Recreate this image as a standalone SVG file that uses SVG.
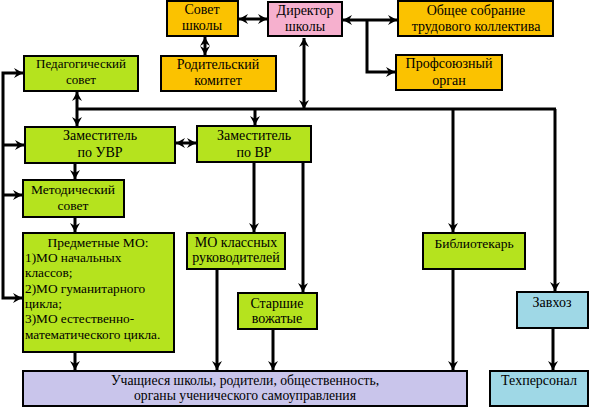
<svg xmlns="http://www.w3.org/2000/svg" width="591" height="409" viewBox="0 0 591 409" font-family="'Liberation Serif', 'DejaVu Serif', serif">
<defs>
<marker id="ah" markerWidth="10" markerHeight="10" refX="9" refY="5" orient="auto-start-reverse" markerUnits="userSpaceOnUse">
<path d="M0,0 L9,5 L0,10 L3,5 z" fill="#000"/>
</marker>
</defs>
<style>
.b{stroke:#000;stroke-width:2}
.g{fill:#B5E31E}
.o{fill:#FBC200}
.p{fill:#F6B0CE}
.l{fill:#C9C5EB}
.c{fill:#9FD8E6}
text{font-family:'Liberation Serif',serif;font-size:14px;fill:#000;text-anchor:middle}
.lt{text-anchor:start;font-size:13.3px}
.k{fill:none;stroke:#000;stroke-width:3}
.a{marker-end:url(#ah)}
.d{marker-start:url(#ah);marker-end:url(#ah)}
</style>
<rect width="591" height="409" fill="#fff"/>
<g id="connectors">
<path class="k d" d="M239,19 H267"/>
<path class="k d" d="M205,37 V55"/>
<path class="k d" d="M343,20 H397"/>
<path class="k a" d="M367,20 V72 H395"/>
<path class="k d" d="M304,38 V109"/>
<path class="k" d="M77,109 H556"/>
<path class="k d" d="M77,92 V126"/>
<path class="k a" d="M255,109 V125"/>
<path class="k a" d="M453,109 V232"/>
<path class="k a" d="M555,109 V291"/>
<path class="k d" d="M176,143 H196"/>
<path class="k a" d="M254,163 V232"/>
<path class="k a" d="M303,163 V292"/>
<path class="k a" d="M75,164 V179"/>
<path class="k a" d="M75,218 V232"/>
<path class="k a" d="M75,353 V370"/>
<path class="k a" d="M217,270 V370"/>
<path class="k a" d="M273,330 V370"/>
<path class="k a" d="M453,270 V370"/>
<path class="k a" d="M553,329 V370"/>
<path class="k d" d="M23,73 H3 V298 H22"/>
<path class="k a" d="M3,145 H24"/>
<path class="k a" d="M3,195 H22"/>
</g>
<g id="sovet-shkoly"><rect class="b o" x="167" y="1" width="71" height="35"/><text x="202" y="14">Совет</text><text x="202" y="30">школы</text></g>
<g id="direktor"><rect class="b p" x="268" y="2" width="74" height="34"/><text x="305" y="15">Директор</text><text x="305" y="31">школы</text></g>
<g id="obshchee-sobranie"><rect class="b o" x="398" y="1" width="155" height="35"/><text x="476" y="15">Общее собрание</text><text x="476" y="31">трудового коллектива</text></g>
<g id="profsoyuz"><rect class="b o" x="396" y="55" width="106" height="35"/><text x="449" y="68">Профсоюзный</text><text x="449" y="85">орган</text></g>
<g id="roditelskiy"><rect class="b o" x="161" y="56" width="115" height="35"/><text x="218" y="69">Родительский</text><text x="218" y="85">комитет</text></g>
<g id="ped-sovet"><rect class="b g" x="24" y="56" width="114" height="35"/><text x="81" y="68" style="font-size:13px">Педагогический</text><text x="81" y="84" style="font-size:13px">совет</text></g>
<g id="zam-uvr"><rect class="b g" x="25" y="127" width="150" height="36"/><text x="100" y="140">Заместитель</text><text x="100" y="157">по УВР</text></g>
<g id="zam-vr"><rect class="b g" x="197" y="126" width="114" height="36"/><text x="254" y="140">Заместитель</text><text x="254" y="157">по ВР</text></g>
<g id="metod-sovet"><rect class="b g" x="23" y="180" width="101" height="37"/><text x="73" y="194" style="font-size:13.5px">Методический</text><text x="73" y="210" style="font-size:13.5px">совет</text></g>
<g id="predmetnye-mo"><rect class="b g" x="23" y="233" width="151" height="119"/>
<text x="98" y="247" style="font-size:13.5px">Предметные МО:</text>
<text class="lt" x="25" y="262">1)МО начальных</text>
<text class="lt" x="25" y="277">классов;</text>
<text class="lt" x="25" y="293">2)МО гуманитарного</text>
<text class="lt" x="25" y="308">цикла;</text>
<text class="lt" x="25" y="323">3)МО естественно-</text>
<text class="lt" x="25" y="339">математического цикла.</text>
</g>
<g id="mo-klassnyh"><rect class="b g" x="187" y="233" width="98" height="36"/><text x="236" y="247">МО классных</text><text x="236" y="262">руководителей</text></g>
<g id="starshie-vozhatye"><rect class="b g" x="238" y="293" width="79" height="36"/><text x="277" y="308">Старшие</text><text x="277" y="323">вожатые</text></g>
<g id="bibliotekar"><rect class="b g" x="423" y="233" width="102" height="36"/><text x="474" y="248" style="font-size:13.5px">Библиотекарь</text></g>
<g id="zavhoz"><rect class="b c" x="517" y="292" width="71" height="36"/><text x="552" y="307">Завхоз</text></g>
<g id="uchashchiesya"><rect class="b l" x="23" y="371" width="444" height="35"/><text x="245" y="385" style="font-size:13.7px">Учащиеся школы, родители, общественность,</text><text x="245" y="400" style="font-size:13.7px">органы ученического самоуправления</text></g>
<g id="tehpersonal"><rect class="b c" x="490" y="371" width="98" height="35"/><text x="539" y="385">Техперсонал</text></g>
</svg>
